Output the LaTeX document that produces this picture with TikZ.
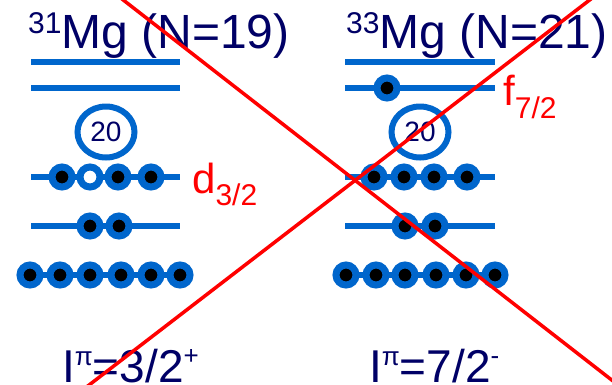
\documentclass[tikz,border=0pt]{standalone}
\usepackage{fontspec}
\setmainfont{Liberation Sans}
\usetikzlibrary{shapes.geometric}
\definecolor{lvlblue}{RGB}{0,102,204}
\definecolor{navy}{RGB}{0,0,102}
\definecolor{xred}{RGB}{255,0,0}
\tikzset{
  shellline/.style={draw=lvlblue, line width=6pt},
  nucl/.style={circle, draw=lvlblue, fill=black, line width=7pt, minimum size=20pt, inner sep=0pt},
  holenucl/.style={nucl, fill=white},
  magicring/.style={ellipse, draw=lvlblue, line width=6pt, minimum width=57pt, minimum height=51pt, inner sep=0pt, text=navy, font=\fontsize{28}{28}\selectfont},
  nuctitle/.style={anchor=base west, text=navy, inner sep=0pt, font=\fontsize{48}{48}\selectfont},
  spinlabel/.style={anchor=base west, text=navy, inner sep=0pt, font=\fontsize{46}{46}\selectfont},
  orbitlabel/.style={anchor=base west, text=xred, inner sep=0pt, font=\fontsize{42}{42}\selectfont},
  vetoline/.style={draw=xred, line width=3.5pt},
}
\newcommand{\supsm}[2]{\raisebox{#1}{\fontsize{26}{26}\selectfont #2}}
\newcommand{\subsm}[1]{\raisebox{-12pt}{\fontsize{30}{30}\selectfont #1}}
\begin{document}
\begin{tikzpicture}[x=1pt,y=-1pt]
\clip (0,0) rectangle (612,384);
\fill[white] (0,0) rectangle (612,384);

% ---------- left: 31Mg ----------
\node[nuctitle] (Ltitle) at (28,48) {\raisebox{15pt}{\fontsize{30}{30}\selectfont 31}Mg (N=19)};
\coordinate (La1) at (31,62);  \coordinate (Lb1) at (180,62);
\coordinate (La2) at (31,88);  \coordinate (Lb2) at (180,88);
\coordinate (La3) at (31,177); \coordinate (Lb3) at (180,177);
\coordinate (La4) at (31,226); \coordinate (Lb4) at (180,226);
\coordinate (La5) at (30,275); \coordinate (Lb5) at (180,275);
\draw[shellline] (La1) -- (Lb1);
\draw[shellline] (La2) -- (Lb2);
\draw[shellline] (La3) -- (Lb3);
\draw[shellline] (La4) -- (Lb4);
\draw[shellline] (La5) -- (Lb5);
\node[magicring] (Lring) at (106,132) {20};
\node[nucl] (Ld1) at (62,177) {};
\node[holenucl] (Ld2) at (90,177) {};
\node[nucl] (Ld3) at (118,177) {};
\node[nucl] (Ld4) at (151,177) {};
\node[orbitlabel] (Ldlab) at (192,193) {d\subsm{3/2}};
\node[nucl] (Lp1) at (90,226) {};
\node[nucl] (Lp2) at (119,226) {};
\foreach \i/\x in {1/30,2/60,3/90,4/121,5/151,6/180}
  \node[nucl] (Ls\i) at (\x,275) {};
\node[spinlabel] (Lspin) at (62,382) {I\supsm{17pt}{π}=3/2\supsm{18pt}{+}};

% ---------- right: 33Mg ----------
\node[nuctitle] (Rtitle) at (346,48) {\raisebox{15pt}{\fontsize{30}{30}\selectfont 33}Mg (N=21)};
\coordinate (Ra1) at (345,62);  \coordinate (Rb1) at (495,62);
\coordinate (Ra2) at (345,88);  \coordinate (Rb2) at (495,88);
\coordinate (Ra3) at (345,177); \coordinate (Rb3) at (495,177);
\coordinate (Ra4) at (345,226); \coordinate (Rb4) at (495,226);
\coordinate (Ra5) at (346,275); \coordinate (Rb5) at (495,275);
\draw[shellline] (Ra1) -- (Rb1);
\draw[shellline] (Ra2) -- (Rb2);
\draw[shellline] (Ra3) -- (Rb3);
\draw[shellline] (Ra4) -- (Rb4);
\draw[shellline] (Ra5) -- (Rb5);
\node[nucl] (Rf1) at (387,88) {};
\node[orbitlabel] (Rflab) at (503,105) {f\raisebox{-13pt}{\fontsize{30}{30}\selectfont 7/2}};
\node[magicring] (Rring) at (420,132) {20};
\foreach \i/\x in {1/374,2/404,3/434,4/467}
  \node[nucl] (Rd\i) at (\x,177) {};
\node[nucl] (Rp1) at (405,226) {};
\node[nucl] (Rp2) at (435,226) {};
\foreach \i/\x in {1/346,2/376,3/405,4/436,5/466,6/495}
  \node[nucl] (Rs\i) at (\x,275) {};
\node[spinlabel] (Rspin) at (369,382) {I\supsm{17pt}{π}=7/2\supsm{18pt}{-}};

% ---------- red cross ----------
\coordinate (X1a) at (113,-8);
\coordinate (X1b) at (640,402);
\coordinate (X2a) at (80,392);
\coordinate (X2b) at (600,-8);
\draw[vetoline] (X1a) -- (X1b);
\draw[vetoline] (X2a) -- (X2b);
\end{tikzpicture}
\end{document}
